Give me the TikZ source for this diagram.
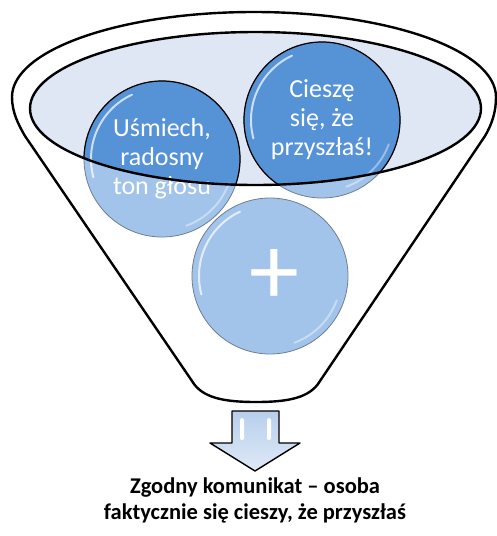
\documentclass[tikz,border=0pt]{standalone}
\usepackage{fontspec}
\setmainfont{Carlito}
\usetikzlibrary{positioning}
\definecolor{Rim}{HTML}{DEE7F3}
\definecolor{Deep}{HTML}{5592D6}
\definecolor{Pale}{HTML}{A2C4EA}
\definecolor{Edge}{HTML}{6E7F91}
\definecolor{ArrowTop}{HTML}{B7CFEC}
\definecolor{ArrowLow}{HTML}{DFE9F6}

\tikzset{
  funnel/.style={draw=black,line width=2.4pt,fill=white,line join=round},
  bubble/.style={circle,draw=Edge,line width=0.8pt,minimum size=156pt,inner sep=0pt,
    text=white,align=center,font=\fontsize{26}{29}\selectfont},
  gloss/.style={white,opacity=0.7,line width=2pt,line cap=round},
}

\begin{document}
\begin{tikzpicture}[x=1pt,y=-1pt]
    \useasboundingbox (0,0) rectangle (496,536);
    % funnel body with the top rim
    \draw[funnel] (12,97) arc[start angle=180,end angle=360,x radius=242,y radius=85]
      .. controls (496,112) and (492,124) .. (485,136) -- (320,381)
      .. controls (310,398) and (288,402) .. (256,402)
      .. controls (224,402) and (202,398) .. (192,381) -- (25,136)
      .. controls (18,124) and (12,112) .. cycle;
    \fill[Rim] (255.5,108.5) ellipse [x radius=225.5,y radius=76.5];

    \coordinate (c1) at (162,159);
    \coordinate (c2) at (322,120);
    \coordinate (c3) at (270,276);
    \foreach \c in {c1,c2,c3}
      \fill[Pale] (\c) circle[radius=78];
    % darker where the circles sit inside the rim
    \begin{scope}
      \clip (255.5,108.5) ellipse [x radius=225.5,y radius=76.5];
      \foreach \c in {c1,c2}
        \fill[Deep] (\c) circle[radius=78];
    \end{scope}
    \foreach \c in {c1,c2,c3} {
      \draw[gloss] (\c) ++(165:71) arc[start angle=165,end angle=245,radius=71];
      \draw[gloss,opacity=0.4] (\c) ++(20:71) arc[start angle=20,end angle=70,radius=71];
    }

    \node[bubble] (smile) at (c1) {Uśmiech,\\radosny\\ton głosu};
    \node[bubble] (words) at (c2) {Cieszę\\się, że\\przyszłaś!};
    \draw[Edge,line width=0.8pt] (c3) circle[radius=78];
    \node[bubble,draw=none,font=\fontsize{100}{100}\selectfont,yshift=-1pt,xshift=4pt] (plus) at (c3) {+};
    \begin{scope}
      \clip (255.5,108.5) ellipse [x radius=225.5,y radius=76.5];
      \draw[line width=1.2pt] (smile) circle[radius=78] (words) circle[radius=78];
    \end{scope}
    \draw[line width=2.4pt] (255.5,108.5) ellipse [x radius=225.5,y radius=76.5];

    % block arrow under the funnel
    \draw[line width=1.4pt,line join=round,top color=ArrowTop,bottom color=ArrowLow]
      (232,411) -- (279,411) -- (279,443) -- (300,443) -- (255,471) -- (210,443)
      -- (232,443) -- cycle;
    \fill[white,rounded corners=1.5pt] (240,418) rectangle (244,440);
    \fill[white,rounded corners=1.5pt] (267,418) rectangle (271,440);
    \coordinate (tip) at (255,471);

    \node[below=3pt of tip,align=center,font=\bfseries\fontsize{22.5}{26}\selectfont] (msg)
      {Zgodny komunikat – osoba\\faktycznie się cieszy, że przyszłaś};
  \end{tikzpicture}
\end{document}
